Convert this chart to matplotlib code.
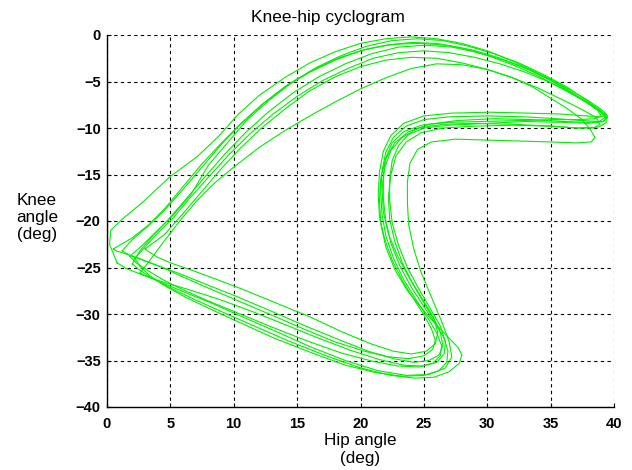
import numpy as np
import matplotlib
matplotlib.use("Agg")
import matplotlib.pyplot as plt

plt.rcParams['font.family'] = ['Liberation Sans', 'DejaVu Sans']

# hip / knee angle (deg), one pair of lists per gait cycle
hip1 = [1.8, 2.8, 4.0, 5.2, 6.6, 8.0, 9.5, 11.0, 12.8, 14.6, 16.5, 18.5, 20.5, 22.5, 24.5, 26.5, 28.5, 30.5, 32.5, 34.5,
        36.3, 37.8, 38.9, 39.3, 38.8, 37.5, 35.5, 33.0, 30.0, 27.0, 25.0, 23.6, 22.6, 22.0, 21.7, 21.6, 21.7, 22.0, 22.6, 23.4,
        24.4, 25.3, 26.0, 26.4, 26.3, 25.7, 24.6, 23.0, 21.0, 18.5, 15.8, 13.0, 10.5, 8.0, 6.0, 4.4, 3.2, 2.3, 1.8]
knee1 = [-23.8, -22.6, -21.0, -19.4, -17.2, -14.0, -11.6, -9.2, -7.0, -5.1, -3.5, -2.2, -1.2, -0.6, -0.4, -0.6, -1.2, -2.0, -3.0, -4.3,
         -5.6, -7.0, -8.1, -8.9, -9.3, -9.2, -9.0, -8.8, -8.7, -8.8, -9.1, -9.8, -11.0, -12.6, -14.6, -17.0, -19.3, -21.6, -24.0, -26.3,
         -28.5, -30.4, -32.0, -33.4, -34.5, -35.3, -35.7, -35.6, -35.1, -34.2, -32.9, -31.4, -30.0, -28.6, -27.4, -26.3, -25.3, -24.5, -23.8]

hip2 = [1.2, 2.0, 3.2, 4.5, 6.0, 7.5, 9.0, 10.6, 12.4, 14.3, 16.3, 18.4, 20.5, 22.6, 24.7, 26.8, 28.8, 30.8, 32.8, 34.6,
        36.4, 37.9, 38.9, 39.4, 39.0, 37.8, 35.8, 33.2, 30.2, 27.2, 25.0, 23.4, 22.4, 21.8, 21.5, 21.4, 21.5, 21.9, 22.5, 23.3,
        24.2, 25.0, 25.6, 25.9, 25.7, 25.0, 23.8, 22.2, 20.3, 18.0, 15.5, 12.8, 10.2, 7.8, 5.8, 4.2, 2.8, 1.8, 1.2]
knee2 = [-23.2, -22.0, -20.6, -18.9, -16.6, -14.2, -11.8, -9.5, -7.3, -5.3, -3.7, -2.4, -1.5, -1.0, -0.9, -1.1, -1.6, -2.4, -3.4, -4.5,
         -5.8, -7.0, -7.9, -8.5, -8.8, -8.7, -8.5, -8.4, -8.3, -8.4, -8.7, -9.5, -10.8, -12.5, -14.7, -17.2, -19.6, -21.9, -24.2, -26.4,
         -28.4, -30.1, -31.6, -32.8, -33.8, -34.5, -34.8, -34.6, -34.0, -33.0, -31.6, -30.0, -28.5, -27.1, -25.9, -24.9, -24.2, -23.7, -23.2]

hip3 = [2.2, 3.0, 4.0, 5.2, 6.5, 8.0, 9.6, 11.3, 13.1, 15.0, 17.0, 19.0, 21.0, 23.0, 25.0, 27.0, 29.0, 31.0, 33.0, 34.8,
        36.5, 37.8, 38.7, 39.0, 38.5, 37.2, 35.2, 32.6, 29.6, 26.8, 24.8, 23.4, 22.5, 22.0, 21.8, 21.8, 22.0, 22.4, 23.1, 24.0,
        25.0, 25.9, 26.6, 26.9, 26.8, 26.2, 25.0, 23.3, 21.2, 18.8, 16.0, 13.2, 10.6, 8.2, 6.2, 4.6, 3.4, 2.6, 2.2]
knee3 = [-24.0, -22.8, -21.3, -19.7, -17.6, -15.3, -12.9, -10.6, -8.5, -6.6, -4.9, -3.6, -2.5, -1.9, -1.7, -1.9, -2.4, -3.1, -4.0, -5.0,
         -6.1, -7.2, -8.1, -8.7, -9.0, -9.1, -9.1, -9.2, -9.3, -9.4, -9.7, -10.4, -11.6, -13.2, -15.2, -17.6, -20.0, -22.4, -24.8, -27.1,
         -29.2, -31.0, -32.6, -34.0, -35.2, -36.1, -36.6, -36.7, -36.3, -35.5, -34.1, -32.6, -31.0, -29.5, -28.2, -27.0, -25.9, -24.9, -24.0]

hip4 = [0.8, 0.2, 0.3, 1.2, 2.8, 5.0, 7.1, 8.8, 10.3, 12.0, 14.0, 16.0, 18.0, 20.0, 22.0, 24.0, 26.0, 28.0, 30.0, 32.0,
        34.0, 36.0, 37.6, 38.8, 39.5, 39.2, 38.0, 36.0, 33.0, 30.0, 27.0, 25.0, 23.8, 23.0, 22.5, 22.3, 22.3, 22.5, 23.0, 23.7,
        24.6, 25.5, 26.3, 26.7, 26.6, 26.0, 24.9, 23.4, 21.5, 19.2, 16.5, 13.8, 11.2, 8.8, 6.5, 4.5, 2.8, 1.5, 0.8]
knee4 = [-24.5, -22.5, -21.0, -19.8, -18.0, -15.2, -13.1, -10.9, -8.6, -6.5, -4.6, -3.0, -1.8, -0.9, -0.4, -0.2, -0.4, -0.9, -1.7, -2.8,
         -4.1, -5.6, -7.0, -8.0, -8.7, -9.3, -9.5, -9.4, -9.3, -9.5, -9.7, -10.0, -10.7, -11.9, -13.5, -15.5, -17.8, -20.2, -22.6, -25.0,
         -27.3, -29.4, -31.3, -33.0, -34.3, -35.2, -35.6, -35.5, -34.9, -33.9, -32.5, -31.0, -29.6, -28.4, -27.4, -26.6, -25.8, -25.1, -24.5]

hip5 = [2.6, 3.4, 4.6, 5.8, 7.1, 8.5, 10.0, 12.0, 14.0, 16.0, 18.0, 20.0, 22.0, 24.0, 26.0, 28.0, 30.0, 32.0, 33.6, 35.0,
        36.3, 37.4, 38.1, 38.5, 38.2, 37.0, 35.0, 32.5, 30.0, 27.5, 25.6, 24.5, 23.9, 23.7, 23.7, 23.8, 24.2, 24.8, 25.6, 26.4,
        27.0, 27.2, 26.7, 25.4, 23.6, 21.4, 18.8, 16.0, 13.2, 10.5, 8.2, 6.2, 4.6, 3.4, 2.6]
knee5 = [-25.6, -24.2, -22.0, -19.9, -17.8, -15.9, -14.2, -12.1, -10.3, -8.7, -7.2, -5.8, -4.6, -3.6, -3.1, -3.2, -3.7, -4.6, -5.6, -6.8,
         -7.9, -9.0, -10.1, -11.0, -11.5, -11.6, -11.5, -11.4, -11.3, -11.2, -11.5, -12.3, -13.8, -15.8, -18.0, -20.4, -23.0, -25.6, -28.2, -30.8,
         -33.0, -34.6, -35.8, -36.5, -36.6, -36.1, -35.0, -33.5, -31.8, -30.2, -28.8, -27.7, -26.8, -26.1, -25.6]

hip6 = [3.0, 4.5, 6.0, 7.5, 9.0, 10.5, 12.2, 14.0, 16.0, 18.0, 20.0, 22.0, 24.0, 26.0, 28.0, 30.0, 32.0, 34.0, 36.0, 37.6,
        38.6, 38.9, 38.4, 37.0, 35.0, 32.0, 29.0, 26.5, 24.8, 23.6, 22.8, 22.4, 22.2, 22.3, 22.7, 23.3, 24.1, 25.0, 25.8, 26.1,
        25.9, 25.2, 24.0, 22.6, 20.8, 18.5, 16.0, 13.3, 10.8, 8.5, 6.5, 5.0, 4.0, 3.4, 3.0]
knee6 = [-23.0, -21.5, -19.2, -16.8, -14.4, -12.2, -10.0, -8.0, -6.0, -4.5, -3.4, -2.7, -2.4, -2.5, -3.0, -3.7, -4.6, -5.7, -7.0, -8.1,
         -8.9, -9.6, -10.0, -10.0, -9.8, -9.7, -9.8, -10.0, -10.5, -11.5, -13.0, -15.0, -17.4, -19.8, -22.2, -24.5, -26.7, -28.8, -30.6, -32.0,
         -33.2, -34.0, -34.3, -34.0, -33.2, -31.9, -30.3, -28.8, -27.4, -26.2, -25.2, -24.5, -23.9, -23.4, -23.0]

hip7 = [0.5, 1.0, 2.0, 3.3, 4.6, 6.0, 7.4, 8.9, 10.5, 12.2, 14.0, 16.0, 18.0, 20.0, 22.0, 24.0, 26.0, 28.0, 30.0, 32.0,
        34.0, 35.8, 37.4, 38.6, 39.3, 39.4, 38.8, 37.2, 35.0, 32.0, 29.0, 26.5, 24.6, 23.3, 22.4, 21.9, 21.7, 21.8, 22.2, 22.9,
        23.8, 24.8, 25.7, 26.3, 26.5, 26.2, 25.4, 24.2, 22.6, 20.6, 18.2, 15.5, 12.8, 10.2, 7.8, 5.6, 3.8, 2.5, 1.4, 0.7, 0.5]
knee7 = [-23.0, -22.6, -21.8, -20.4, -18.6, -16.3, -14.0, -11.8, -9.6, -7.5, -5.6, -4.0, -2.7, -1.7, -1.1, -0.8, -0.9, -1.4, -2.2, -3.2,
         -4.4, -5.7, -6.9, -7.9, -8.7, -9.4, -9.9, -10.0, -9.8, -9.6, -9.5, -9.6, -10.0, -11.0, -12.4, -14.3, -16.6, -19.0, -21.4, -23.7,
         -26.0, -28.2, -30.2, -32.0, -33.4, -34.4, -35.0, -35.2, -34.8, -34.0, -32.7, -31.2, -29.6, -28.1, -26.8, -25.6, -24.7, -24.0, -23.5, -23.2, -23.0]

hip8 = [2.0, 2.6, 3.6, 4.8, 6.2, 7.7, 9.3, 11.0, 12.8, 14.7, 16.7, 18.8, 20.9, 23.0, 25.1, 27.2, 29.3, 31.3, 33.2, 35.0,
        36.6, 38.0, 39.0, 39.5, 39.1, 37.9, 36.0, 33.5, 30.5, 27.6, 25.4, 23.8, 22.7, 22.0, 21.6, 21.5, 21.6, 22.0, 22.7, 23.7,
        24.9, 26.0, 27.0, 27.7, 28.0, 27.8, 27.0, 25.8, 24.3, 22.4, 20.0, 17.3, 14.5, 11.8, 9.3, 7.0, 5.0, 3.5, 2.5, 2.0]
knee8 = [-24.6, -23.2, -21.6, -19.9, -17.7, -15.3, -12.8, -10.4, -8.2, -6.2, -4.5, -3.1, -2.0, -1.3, -1.1, -1.3, -1.9, -2.7, -3.7, -4.9,
         -6.2, -7.4, -8.3, -8.9, -9.3, -9.4, -9.3, -9.1, -9.0, -9.2, -9.6, -10.4, -11.6, -13.3, -15.4, -17.8, -20.3, -22.8, -25.2, -27.5,
         -29.5, -31.2, -32.6, -33.6, -34.4, -35.3, -36.2, -36.8, -36.9, -36.6, -35.8, -34.5, -33.0, -31.4, -29.9, -28.5, -27.2, -26.1, -25.2, -24.6]

cycles = [(hip1, knee1), (hip2, knee2), (hip3, knee3), (hip4, knee4),
          (hip5, knee5), (hip6, knee6), (hip7, knee7), (hip8, knee8)]

x_ticks = [0, 5, 10, 15, 20, 25, 30, 35, 40]
y_ticks = [-40, -35, -30, -25, -20, -15, -10, -5, 0]

fig = plt.figure(figsize=(6.32, 4.70), dpi=100)
ax = fig.add_axes([107 / 632, 63 / 470, 507 / 632, 372 / 470])

for h, k in cycles:
    ax.plot(h, k, color='#00ee00', linewidth=0.8, zorder=3)

ax.set_xlim(0, 40)
ax.set_ylim(-40, 0)
ax.set_xticks(x_ticks)
ax.set_yticks(y_ticks)
ax.grid(True, color='black', linestyle=(0, (3, 3)), linewidth=0.8, zorder=1)
ax.set_axisbelow(True)

for s in ['top', 'right']:
    ax.spines[s].set_visible(False)
for s in ['left', 'bottom']:
    ax.spines[s].set_linewidth(1.0)

ax.tick_params(direction='in', length=3, width=0.8, labelsize=10.5)
ax.tick_params(axis='x', pad=7)
ax.tick_params(axis='y', pad=4.5)
for lab in ax.get_xticklabels() + ax.get_yticklabels():
    lab.set_fontweight('bold')

ax.set_title('Knee-hip cyclogram', fontsize=12.5, pad=9.5, x=0.436)
ax.set_xlabel('Hip angle\n(deg)', fontsize=12.3, labelpad=2, linespacing=1.2)
ax.set_ylabel('Knee\nangle\n(deg)', fontsize=12.3, rotation=0, ha='center', va='center', linespacing=1.15)
ax.yaxis.set_label_coords(-0.138, 0.51)

fig.savefig('out.png', dpi=100)
